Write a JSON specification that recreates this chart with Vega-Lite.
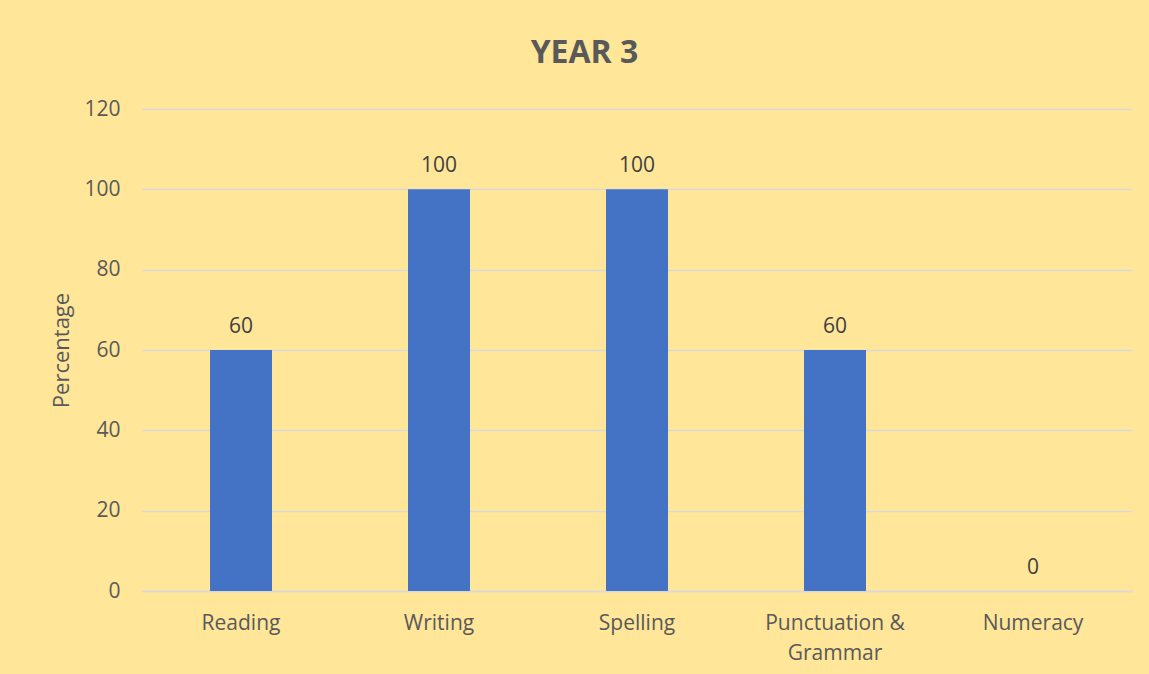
{
  "$schema": "https://vega.github.io/schema/vega-lite/v6.json",
  "width": 990,
  "height": 482,
  "autosize": {"type": "none"},
  "padding": {"left": 142, "top": 109, "right": 17, "bottom": 83},
  "background": "#FFE699",
  "title": {
    "text": "YEAR 3",
    "font": "Open Sans",
    "fontSize": 32,
    "fontWeight": "bold",
    "color": "#595959",
    "anchor": "middle",
    "frame": "bounds",
    "dx": -7,
    "offset": 28
  },
  "data": {
    "values": [
      {"subject": "Reading", "pct": 60},
      {"subject": "Writing", "pct": 100},
      {"subject": "Spelling", "pct": 100},
      {"subject": "Punctuation & Grammar", "pct": 60},
      {"subject": "Numeracy", "pct": 0}
    ]
  },
  "encoding": {
    "x": {
      "field": "subject",
      "type": "nominal",
      "sort": null,
      "scale": {"paddingInner": 0.687, "paddingOuter": 0.3435},
      "axis": {
        "title": null,
        "labelAngle": 0,
        "labelFont": "Open Sans",
        "labelFontSize": 21,
        "labelColor": "#595959",
        "labelPadding": 21,
        "labelLineHeight": 30,
        "labelExpr": "datum.label == 'Punctuation & Grammar' ? ['Punctuation &', 'Grammar'] : datum.label",
        "ticks": false,
        "domainColor": "#D9D9D9",
        "domainWidth": 1.5,
        "grid": false
      }
    },
    "y": {
      "field": "pct",
      "type": "quantitative",
      "scale": {"domain": [0, 120]},
      "axis": {
        "title": "Percentage",
        "titleFont": "Open Sans",
        "titleFontSize": 22,
        "titleFontWeight": "normal",
        "titleColor": "#595959",
        "titlePadding": 10,
        "values": [0, 20, 40, 60, 80, 100, 120],
        "labelFont": "Open Sans",
        "labelFontSize": 21,
        "labelColor": "#595959",
        "labelPadding": 22,
        "ticks": false,
        "domain": false,
        "gridColor": "#D9D9D9",
        "gridWidth": 1.5
      }
    }
  },
  "layer": [
    {"mark": {"type": "bar", "color": "#4472C4"}},
    {
      "mark": {"type": "text", "baseline": "alphabetic", "dy": -17, "font": "Open Sans", "fontSize": 21, "color": "#404040"},
      "encoding": {"text": {"field": "pct", "type": "quantitative"}}
    }
  ],
  "config": {"view": {"stroke": null}}
}
